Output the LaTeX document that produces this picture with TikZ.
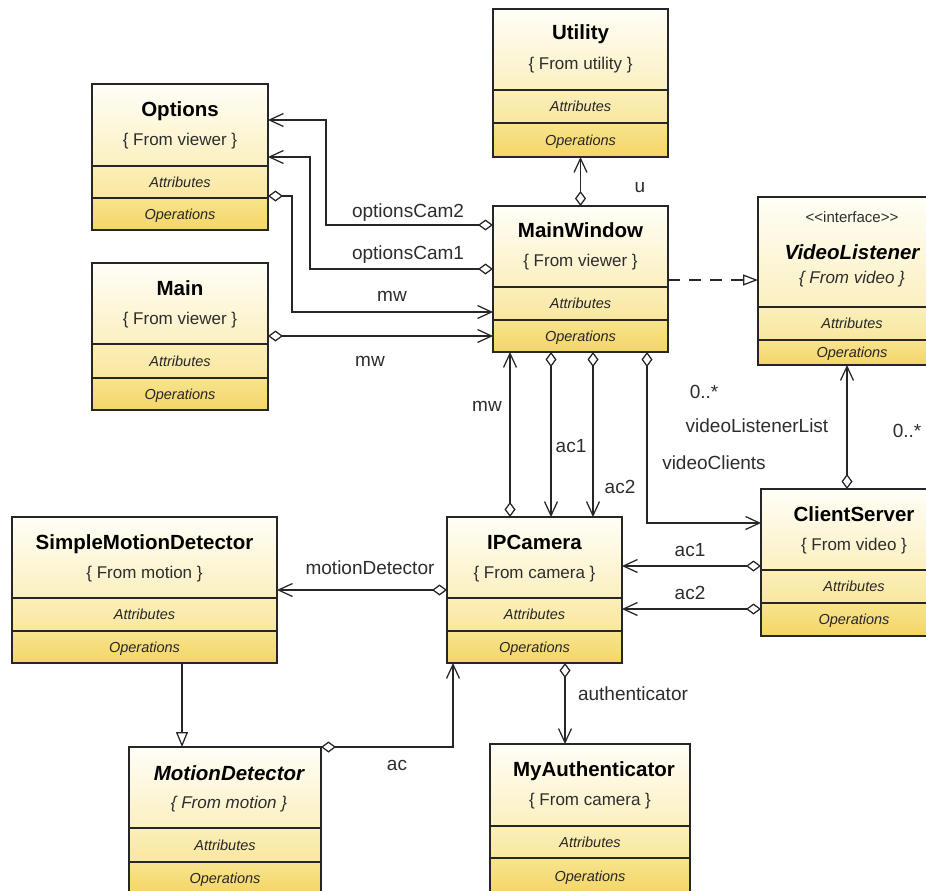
\documentclass[tikz,border=0pt]{standalone}
\usepackage{fontspec}
\setmainfont{Liberation Sans}
\usetikzlibrary{arrows.meta}

\definecolor{hdrtop}{RGB}{255,254,247}
\definecolor{hdrbot}{RGB}{251,240,192}
\definecolor{atttop}{RGB}{251,239,184}
\definecolor{attbot}{RGB}{249,231,160}
\definecolor{optop}{RGB}{248,228,142}
\definecolor{opbot}{RGB}{244,213,102}
\definecolor{edge}{RGB}{38,38,38}
\definecolor{ink}{RGB}{45,45,45}

\tikzset{
  boxline/.style={draw=edge, line width=1.3pt},
  title/.style={font=\fontsize{20.5}{24}\selectfont\bfseries, anchor=base, inner sep=0pt, text=black},
  origin/.style={font=\fontsize{17}{20}\selectfont, anchor=base, inner sep=0pt, text=ink},
  stereo/.style={font=\fontsize{15}{18}\selectfont, anchor=base, inner sep=0pt, text=ink},
  compart/.style={font=\fontsize{14.5}{17}\selectfont\itshape, inner sep=0pt,
    text height=10.4pt, text depth=0pt, text=black!85},
  lbl/.style={font=\fontsize{19}{22}\selectfont, inner sep=0pt,
    text height=13.6pt, text depth=0pt, text=ink},
  conn/.style={draw=edge, line width=1.25pt},
  aggnav/.style={conn, {Diamond[open, length=15pt, width=11pt, fill=white]}-{Straight Barb[length=14pt, width=13pt]}},
  inherit/.style={conn, -{Triangle[open, length=15pt, width=12pt, fill=white]}},
  realize/.style={conn, dash pattern=on 12pt off 9pt, -{Triangle[open, length=15pt, width=11pt, fill=white]}},
}

% class box: name, left, top, right, bottom, header bottom, attributes bottom
\newcommand\umlclass[7]{%
  \pgfmathsetmacro\ucw{#4-#2}%
  \pgfmathsetmacro\uch{#5-#3}%
  \pgfmathsetmacro\ucx{(#2+#4)/2}%
  \pgfmathsetmacro\ucy{(#3+#5)/2}%
  \shade[top color=hdrtop, bottom color=hdrbot] (#2,#3) rectangle (#4,#6);
  \shade[top color=atttop, bottom color=attbot] (#2,#6) rectangle (#4,#7);
  \shade[top color=optop, bottom color=opbot] (#2,#7) rectangle (#4,#5);
  \draw[boxline] (#2,#6) -- (#4,#6) (#2,#7) -- (#4,#7);
  \node[boxline, minimum width=\ucw pt, minimum height=\uch pt, inner sep=0pt, outer sep=0pt]
    (#1) at (\ucx,\ucy) {};
  \node[compart] (#1-att) at (\ucx,{(#6+#7)/2}) {Attributes};
  \node[compart] (#1-ops) at (\ucx,{(#7+#5)/2}) {Operations};
}

\begin{document}
\begin{tikzpicture}[x=1pt, y=-1pt]
\useasboundingbox[fill=white] (0,0) rectangle (926,891);

% ---------- classes ----------
\umlclass{UT}{493}{9}{668}{157}{90}{123}
\node[title]  (UT-t) at ([yshift=-31pt]UT.north) {Utility};
\node[origin] (UT-o) at ([yshift=-61pt]UT.north) {\{ From utility \}};

\umlclass{OP}{92}{84}{268}{230}{166}{198}
\node[title]  (OP-t) at ([yshift=-32pt]OP.north) {Options};
\node[origin] (OP-o) at ([yshift=-61pt]OP.north) {\{ From viewer \}};

\umlclass{MA}{92}{263}{268}{410}{344}{378}
\node[title]  (MA-t) at ([yshift=-32pt]MA.north) {Main};
\node[origin] (MA-o) at ([yshift=-61pt]MA.north) {\{ From viewer \}};

\umlclass{MW}{493}{206}{668}{352}{287}{320}
\node[title]  (MW-t) at ([yshift=-31pt]MW.north) {MainWindow};
\node[origin] (MW-o) at ([yshift=-60pt]MW.north) {\{ From viewer \}};

\umlclass{VL}{758}{197}{946}{365}{307}{340}
\node[stereo] (VL-s) at ([yshift=-25pt]VL.north) {<\kern0pt<interface>\kern0pt>};
\node[title, font=\fontsize{20.5}{24}\selectfont\bfseries\itshape] (VL-t) at ([yshift=-62pt]VL.north) {VideoListener};
\node[origin, font=\fontsize{17}{20}\selectfont\itshape] (VL-o) at ([yshift=-86pt]VL.north) {\{ From video \}};

\umlclass{SMD}{12}{517}{277}{663}{598}{631}
\node[title]  (SMD-t) at ([yshift=-32pt]SMD.north) {SimpleMotionDetector};
\node[origin] (SMD-o) at ([yshift=-61pt]SMD.north) {\{ From motion \}};

\umlclass{IPC}{447}{517}{622}{663}{598}{631}
\node[title]  (IPC-t) at ([yshift=-32pt]IPC.north) {IPCamera};
\node[origin] (IPC-o) at ([yshift=-61pt]IPC.north) {\{ From camera \}};

\umlclass{CS}{761}{489}{947}{636}{570}{603}
\node[title]  (CS-t) at ([yshift=-32pt]CS.north) {ClientServer};
\node[origin] (CS-o) at ([yshift=-61pt]CS.north) {\{ From video \}};

\umlclass{MD}{129}{747}{321}{894}{828}{862}
\node[title, font=\fontsize{20.5}{24}\selectfont\bfseries\itshape] (MD-t) at ([yshift=-33pt,xshift=4pt]MD.north) {MotionDetector};
\node[origin, font=\fontsize{17}{20}\selectfont\itshape] (MD-o) at ([yshift=-61pt,xshift=4pt]MD.north) {\{ From motion \}};

\umlclass{AU}{490}{744}{690}{894}{826}{858}
\node[title]  (AU-t) at ([yshift=-32pt,xshift=4pt]AU.north) {MyAuthenticator};
\node[origin] (AU-o) at ([yshift=-61pt]AU.north) {\{ From camera \}};

% ---------- connectors ----------
\draw[aggnav] (MW.north) -- (UT.south);
\draw[aggnav] (MW.west |- 0,225) -| (326,120) -- (OP.east |- 0,120);
\draw[aggnav] (MW.west |- 0,269) -| (310,157) -- (OP.east |- 0,157);
\draw[aggnav] (OP.east |- 0,196) -| (292,312) -- (MW.west |- 0,312);
\draw[aggnav] (MA.east |- 0,336) -- (MW.west |- 0,336);
\draw[realize] (MW.east |- 0,280) -- (VL.west |- 0,280);

\draw[aggnav] (IPC.north -| 510,0) -- (MW.south -| 510,0);
\draw[aggnav] (MW.south -| 551,0) -- (IPC.north -| 551,0);
\draw[aggnav] (MW.south -| 593,0) -- (IPC.north -| 593,0);
\draw[aggnav] (MW.south -| 647,0) |- (CS.west |- 0,523);
\draw[aggnav] (CS.north -| 847,0) -- (VL.south -| 847,0);

\draw[aggnav] (CS.west |- 0,566) -- (IPC.east |- 0,566);
\draw[aggnav] (CS.west |- 0,609) -- (IPC.east |- 0,609);
\draw[aggnav] (IPC.west |- 0,590) -- (SMD.east |- 0,590);
\draw[inherit] (SMD.south -| 182,0) -- (MD.north -| 182,0);
\draw[aggnav] (MD.north east) -| (IPC.south -| 453,0);
\draw[aggnav] (IPC.south -| 565,0) -- (AU.north -| 565,0);

% ---------- role labels ----------
\node[lbl] (l-u)    at (640,186) {u};
\node[lbl] (l-oc2)  at (408,211) {optionsCam2};
\node[lbl] (l-oc1)  at (408,253) {optionsCam1};
\node[lbl] (l-mw1)  at (392,295) {mw};
\node[lbl] (l-mw2)  at (370,360) {mw};
\node[lbl] (l-mw3)  at (487,405) {mw};
\node[lbl] (l-ac1a) at (571,446) {ac1};
\node[lbl] (l-ac2a) at (620,487) {ac2};
\node[lbl] (l-m1)   at (704,392) {0..*};
\node[lbl] (l-vll)  at (757,426) {videoListenerList};
\node[lbl] (l-vc)   at (714,463) {videoClients};
\node[lbl] (l-m2)   at (907,431) {0..*};
\node[lbl] (l-ac1b) at (690,550) {ac1};
\node[lbl] (l-ac2b) at (690,593) {ac2};
\node[lbl] (l-md)   at (370,568) {motionDetector};
\node[lbl] (l-ac)   at (397,764) {ac};
\node[lbl] (l-auth) at (633,694) {authenticator};
\end{tikzpicture}
\end{document}
